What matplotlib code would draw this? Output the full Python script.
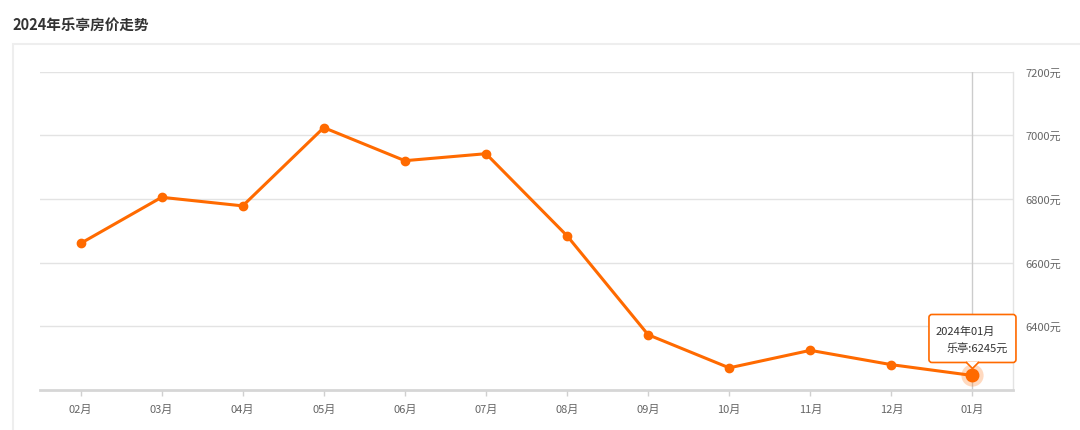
import numpy as np
import matplotlib
matplotlib.use('Agg')
import matplotlib.pyplot as plt
from matplotlib.patches import FancyBboxPatch, Polygon, Rectangle
from matplotlib.transforms import IdentityTransform

plt.rcParams['font.family'] = ['Noto Sans CJK SC', 'DejaVu Sans']

# data
months = ['02月', '03月', '04月', '05月', '06月', '07月', '08月', '09月', '10月', '11月', '12月', '01月']
prices = [6660, 6805, 6778, 7024, 6920, 6942, 6684, 6373, 6269, 6324, 6279, 6245]
yticks = [6400, 6600, 6800, 7000, 7200]
title = '2024年乐亭房价走势'
tip_title = '2024年01月'
tip_label = '乐亭'

orange = '#FF6A00'
W, H = 1080, 431

fig = plt.figure(figsize=(W / 100, H / 100), dpi=100)
fig.patch.set_facecolor('white')

# outer panel border
fig.patches.append(Rectangle((13 / W, -0.1), 1.2, 1 - 45 / H + 0.1, transform=fig.transFigure,
                             fill=False, edgecolor='#eeeeee', linewidth=1.5, zorder=0))
fig.text(12 / W, 1 - 25 / H, title, fontsize=10.5, fontweight='bold', color='#333333',
         ha='left', va='center')

ax = fig.add_axes([40 / W, 1 - 390.8 / H, (1013 - 40) / W, (390.8 - 72.6) / H])
x = np.arange(len(months))
ax.set_xlim(-0.5, len(months) - 0.5)
ax.set_ylim(6200, 7200)

for yv in yticks:
    ax.axhline(yv, color='#e3e3e3', linewidth=1, zorder=1)

ax.set_yticks(yticks)
ax.set_yticklabels([f'{v}元' for v in yticks])
ax.yaxis.tick_right()
ax.tick_params(axis='y', length=0, pad=9, labelsize=8, labelcolor='#666666')
ax.set_xticks(x)
ax.set_xticklabels(months)
ax.tick_params(axis='x', length=4, width=1, color='#d0d0d0', pad=6, labelsize=8, labelcolor='#666666')

for s in ['left', 'top']:
    ax.spines[s].set_visible(False)
ax.spines['right'].set_color('#e3e3e3')
ax.spines['right'].set_linewidth(1)
ax.spines['bottom'].set_color('#d6d6d6')
ax.spines['bottom'].set_linewidth(2)

# axis pointer for hovered month
ax.axvline(x[-1], color='#cccccc', linewidth=1, zorder=2)

ax.plot(x, prices, color=orange, linewidth=2.2, marker='o', markersize=6, zorder=3)
ax.plot(x[-1], prices[-1], 'o', color=orange, markersize=16, alpha=0.25, markeredgewidth=0, zorder=3)
ax.plot(x[-1], prices[-1], 'o', color=orange, markersize=9, zorder=4)

# tooltip
fig.canvas.draw()
px, py = ax.transData.transform((x[-1], prices[-1]))
bw, bh = 87, 48
bx0, by0 = px - 43.5, py + 13
box = FancyBboxPatch((bx0, by0), bw, bh, boxstyle='round,pad=0,rounding_size=3',
                     transform=IdentityTransform(), facecolor='white', edgecolor=orange,
                     linewidth=1.2, zorder=10)
fig.patches.append(box)
tri = Polygon([(px - 6, by0 + 0.8), (px + 6, by0 + 0.8), (px, by0 - 6)], closed=True,
              transform=IdentityTransform(), facecolor='white', edgecolor='none', zorder=11)
fig.patches.append(tri)
fig.lines.append(plt.Line2D([px - 6, px, px + 6], [by0, by0 - 6, by0], transform=IdentityTransform(),
                            color=orange, linewidth=1.2, zorder=12))
fig.text(bx0 + 7, by0 + bh - 16, tip_title, transform=IdentityTransform(), fontsize=8,
         color='#333333', ha='left', va='center', zorder=13)
fig.text(bx0 + bw - 8, by0 + bh - 33, f'{tip_label}:{prices[-1]}元', transform=IdentityTransform(),
         fontsize=8, color='#333333', ha='right', va='center', zorder=13)

fig.savefig('out.png', dpi=100)
